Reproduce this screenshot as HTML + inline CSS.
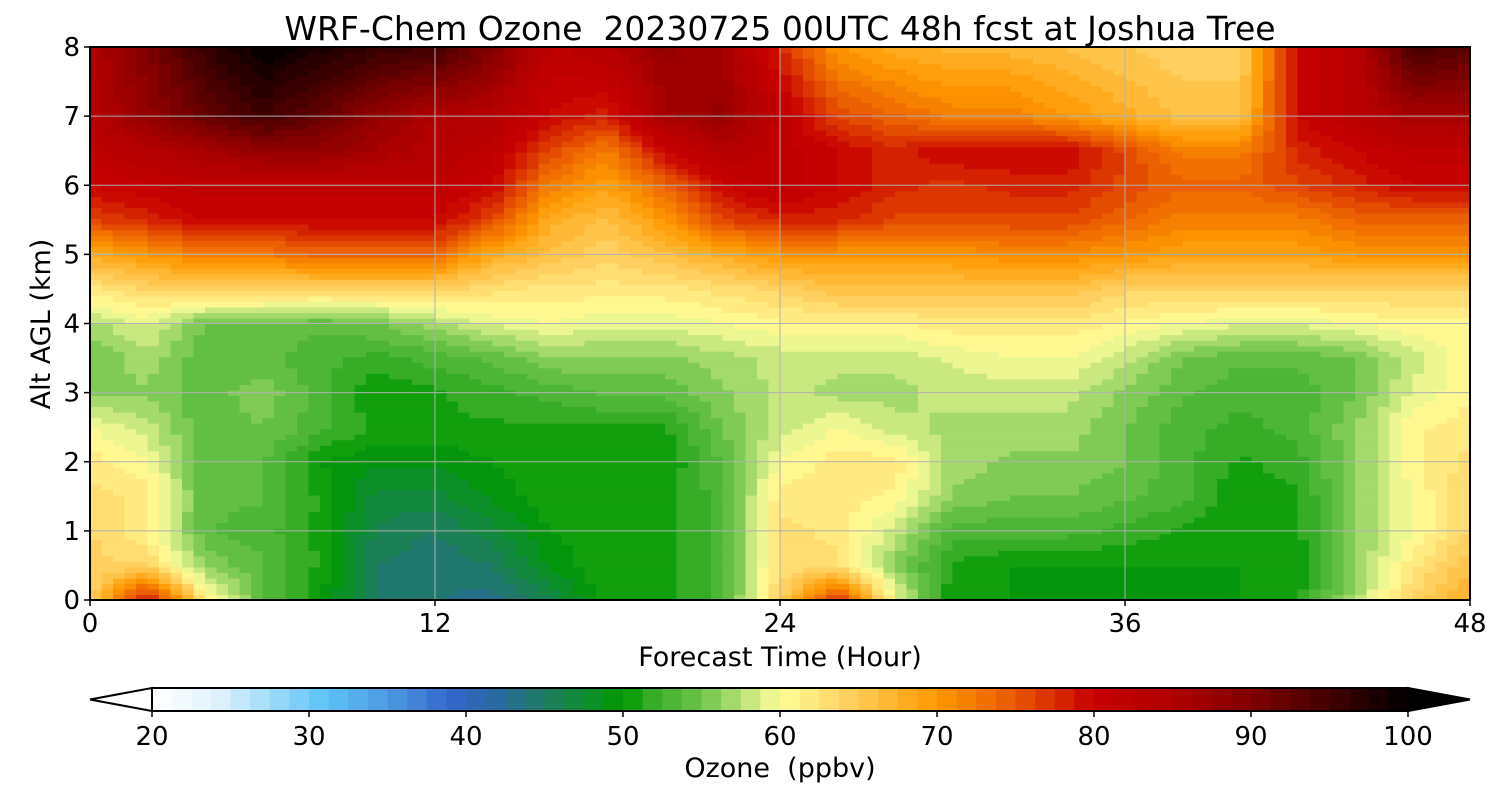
<!DOCTYPE html>
<html><head><meta charset="utf-8"><style>
html,body{margin:0;padding:0;background:#fff;}
svg text{font-family:"DejaVu Sans","Liberation Sans",sans-serif;fill:#000;white-space:pre;}
</style></head><body>
<svg id="chart" width="1500" height="800" viewBox="0 0 1500 800" xmlns="http://www.w3.org/2000/svg" xml:space="preserve">
<text x="780" y="40" font-size="33" text-anchor="middle">WRF-Chem Ozone  20230725 00UTC 48h fcst at Joshua Tree</text>
<g id="field"></g>
<g id="grid"></g>
<rect x="90" y="47" width="1380" height="553" fill="none" stroke="#000" stroke-width="2"/>
<g id="xticks"></g>
<g id="yticks"></g>
<text x="780" y="666" font-size="27" text-anchor="middle">Forecast Time (Hour)</text>
<text transform="translate(50,324) rotate(-90)" font-size="27" text-anchor="middle">Alt AGL (km)</text>
<g id="cbar"></g>
<text x="780" y="777" font-size="27" text-anchor="middle">Ozone  (ppbv)</text>
</svg>
<script>
const hours=[0,2,4,6,8,10,12,14,16,18,20,22,24,26,28,30,32,34,36,38,40,42,44,46,48];
const alts=[0,0.5,1,1.5,2,2.5,3,3.5,4,4.5,5,5.5,6,6.5,7,8];
const ozone=[
[64,80,62,54,50,45,44,43,46,51,51,53,64,78,60,50,50,49,49,49,50,51,57,64,68],
[64,64,56,54,51,45,44,45,49,51,51,53,63,63,56,51,50,50,50,50,50,50,56,62,66],
[64,61,54,53,51,46,45,47,50,51,51,53,63,62,58,53,53,53,52,51,50,51,56,60,64],
[63,62,54,54,51,47,47,49,51,51,51,53,62,62,61,56,55,55,54,53,50,51,56,60,64],
[62,60,54,54,50,49,49,50,51,51,50,54,60,62,62,57,56,56,55,53,51,52,56,61,63],
[60,58,54,55,53,51,51,51,51,51,51,55,58,60,58,57,57,57,55,53,52,53,56,61,62],
[56,56,54,56,53,50,51,52,53,54,54,56,58,57,57,58,58,58,56,54,53,53,55,59,61],
[55,57,54,54,53,52,53,54,56,56,56,57,58,58,58,59,60,60,58,55,54,54,55,58,61],
[57,59,55,55,54,55,57,59,60,59,59,60,61,61,61,62,62,62,61,60,59,59,60,61,61],
[62,64,64,64,64,64,64,63,62,62,62,63,64,66,66,66,66,66,64,64,64,64,64,64,64],
[68,70,72,72,74,74,74,68,66,64,66,68,70,70,70,70,71,71,70,69,69,69,70,70,70],
[76,78,80,80,80,80,80,76,68,66,70,76,78,78,76,76,76,76,74,72,72,72,74,74,74],
[80,81,82,82,82,82,82,80,72,69,74,80,82,80,78,77,78,78,76,74,74,76,78,80,80],
[82,84,86,88,88,86,84,82,76,72,80,84,82,80,78,80,80,80,76,72,72,78,80,82,82],
[84,88,92,95,92,88,85,84,80,78,86,88,82,76,74,72,72,70,68,66,66,80,83,86,86],
[85,90,96,100,98,96,95,90,82,84,88,86,78,70,68,67,67,66,65,64,64,80,83,95,93]
];
const xTicks=[0,12,24,36,48];
const yTicks=[0,1,2,3,4,5,6,7,8];
const cbTicks=[20,30,40,50,60,70,80,90,100];
const stops=[[20,'#ffffff'],[24,'#e4f4fd'],[31,'#5ec4f8'],[35,'#4d9ae0'],[39,'#3366cc'],[42,'#2a6aa0'],[45,'#1f7c62'],[48,'#0b8f2a'],[50,'#009900'],[52,'#3aad2a'],[55,'#6cc44a'],[58,'#c6e67e'],[60,'#ffff99'],[64,'#ffd466'],[70,'#ff9900'],[75,'#e85800'],[80,'#c80000'],[85,'#b00000'],[90,'#800000'],[95,'#400000'],[100,'#000000']];
const X0=90,X1=1470,Y0=600,Y1=47;
const xs=h=>X0+(X1-X0)*h/48, ys=a=>Y0+(Y1-Y0)*a/8;
const hex=c=>[1,3,5].map(i=>parseInt(c.substr(i,2),16));
function cmap(v){v=Math.max(20,Math.min(100,v));
 for(let i=0;i<stops.length-1;i++){const [a,ca]=stops[i],[b,cb]=stops[i+1];
  if(v<=b){const t=(v-a)/(b-a),A=hex(ca),B=hex(cb);return 'rgb('+A.map((x,k)=>Math.round(x+(B[k]-x)*t)).join(',')+')';}}
 return '#000';}
const STEP=1.25;
const q=v=>20+STEP*(Math.floor((v-20)/STEP)+0.5);
function interp(arr,v){let i=0;while(i<arr.length-2&&v>arr[i+1])i++;return [i,(v-arr[i])/(arr[i+1]-arr[i])];}
function val(h,a){const [i,tx]=interp(hours,h),[j,ty]=interp(alts,a);
 const v00=ozone[j][i],v10=ozone[j][i+1],v01=ozone[j+1][i],v11=ozone[j+1][i+1];
 return (v00*(1-tx)+v10*tx)*(1-ty)+(v01*(1-tx)+v11*tx)*ty;}
const NS='http://www.w3.org/2000/svg';
function mk(tag,attrs,parent){const e=document.createElementNS(NS,tag);for(const k in attrs)e.setAttribute(k,attrs[k]);parent.appendChild(e);return e;}
const field=document.getElementById('field');
const NX=120,NY=100;
for(let ix=0;ix<NX;ix++){for(let iy=0;iy<NY;iy++){
 const h=48*ix/NX,h2=48*(ix+1)/NX,a=8*iy/NY,a2=8*(iy+1)/NY;
 const v=val((h+h2)/2,(a+a2)/2);
 const r=mk('rect',{x:xs(h).toFixed(2),y:ys(a2).toFixed(2),width:(xs(h2)-xs(h)+0.6).toFixed(2),height:(ys(a)-ys(a2)+0.6).toFixed(2),fill:cmap(q(v))},field);
 
 
}}
const grid=document.getElementById('grid'),xt=document.getElementById('xticks'),yt=document.getElementById('yticks');
xTicks.forEach(t=>{
 const l=mk('line',{x1:xs(t),x2:xs(t),y1:Y1,y2:Y0,stroke:'#b0b0b0','stroke-width':1},grid);
 
 mk('line',{x1:xs(t),x2:xs(t),y1:Y0,y2:Y0+6,stroke:'#000','stroke-width':1.5},xt);
 const tx=mk('text',{x:xs(t),y:632,'font-size':26,'text-anchor':'middle'},xt);tx.textContent=t;
 
});
yTicks.forEach(t=>{
 const l=mk('line',{x1:X0,x2:X1,y1:ys(t),y2:ys(t),stroke:'#b0b0b0','stroke-width':1},grid);
 
 mk('line',{x1:X0-6,x2:X0,y1:ys(t),y2:ys(t),stroke:'#000','stroke-width':1.5},yt);
 const tx=mk('text',{x:80,y:ys(t)+9,'font-size':26,'text-anchor':'end'},yt);tx.textContent=t;
 
});
const cb=document.getElementById('cbar');const C0=152,C1=1408,CT=688,CB=711;
const cx=v=>C0+(C1-C0)*(v-20)/80;
for(let v=20;v<100-1e-9;v+=STEP){
 const r=mk('rect',{x:cx(v),y:CT,width:cx(v+STEP)-cx(v)+0.5,height:CB-CT,fill:cmap(v+STEP/2)},cb);
 
}
mk('polygon',{points:`${C0},${CT} 90,${(CT+CB)/2} ${C0},${CB}`,fill:'#fff',stroke:'#000','stroke-width':2},cb);
mk('polygon',{points:`${C1},${CT} 1470,${(CT+CB)/2} ${C1},${CB}`,fill:'#000',stroke:'#000','stroke-width':2},cb);
mk('rect',{x:C0,y:CT,width:C1-C0,height:CB-CT,fill:'none',stroke:'#000','stroke-width':2},cb);
cbTicks.forEach(t=>{
 mk('line',{x1:cx(t),x2:cx(t),y1:CB,y2:CB+6,stroke:'#000','stroke-width':1.5},cb);
 const tx=mk('text',{x:cx(t),y:745,'font-size':26,'text-anchor':'middle'},cb);tx.textContent=t;
 
});
</script>
</body></html>
